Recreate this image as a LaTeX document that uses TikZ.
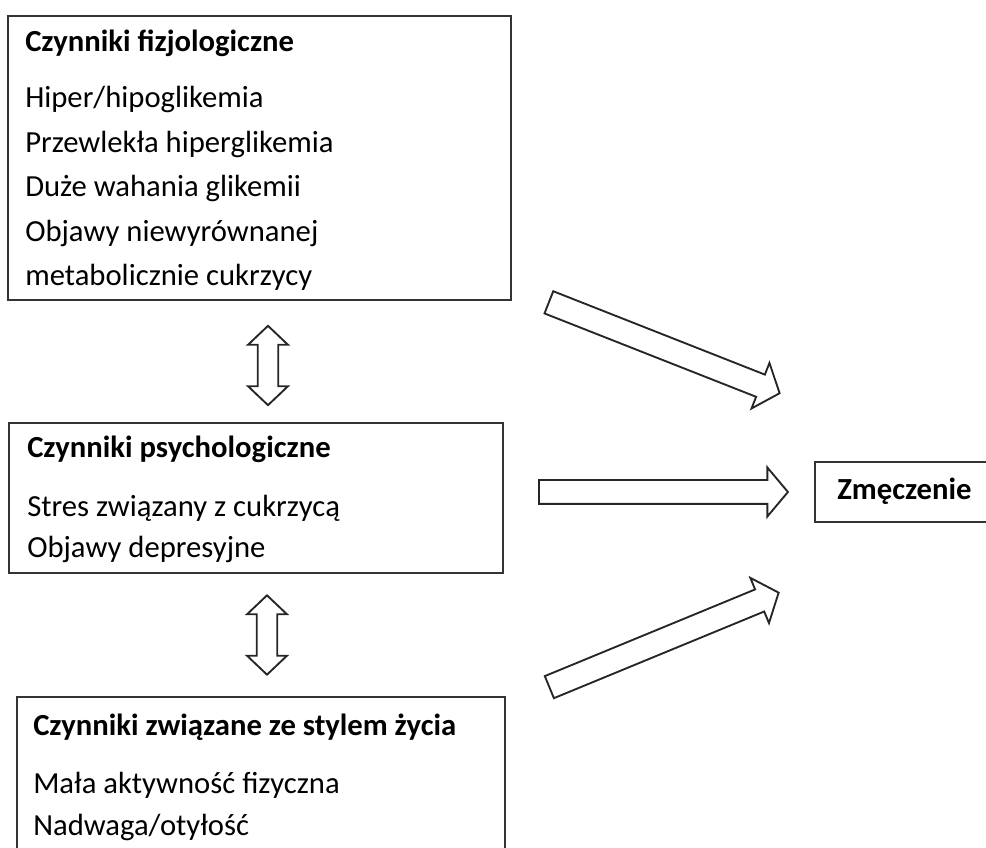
\documentclass[tikz,border=0pt]{standalone}
\usepackage{fontspec}
\setmainfont{Carlito}
\usetikzlibrary{fit, shapes.arrows}

\begin{document}
\begin{tikzpicture}[x=0.75pt, y=-0.75pt,
    box/.style={draw=black!80, line width=1.1pt, inner sep=0pt},
    txt/.style={anchor=base west, inner sep=0pt, align=left},
    fat/.style={single arrow, draw=black!85, line width=1.4pt,
        inner xsep=0pt, inner ysep=8.25pt, single arrow head extend=9.4pt,
        single arrow tip angle=100, minimum height=186pt, anchor=tail},
    twoway/.style={double arrow, draw=black!85, line width=1.4pt,
        inner xsep=0pt, inner ysep=7pt, double arrow head extend=7.25pt,
        double arrow tip angle=93, minimum height=59.5pt, rotate=90}]

    \clip[use as bounding box] (0,0) rectangle (986,848);

    % boxes
    \node[box, fit={(8,16) (511,300)}]    (fiz)  {};
    \node[box, fit={(9,423) (503,573)}]   (psy)  {};
    \node[box, fit={(17,697) (505,880)}]  (styl) {};
    \node[box, fit={(815,462) (1010,522)}] (zm)  {};

    % texts (anchored at the last line)
    \node[txt, font=\fontsize{23}{33.4}\selectfont] (fiztxt) at (25,286)
        {\textbf{Czynniki fizjologiczne}\\[8.6pt]
         Hiper/hipoglikemia\\ Przewlekła hiperglikemia\\ Duże wahania glikemii\\
         Objawy niewyrównanej\\ metabolicznie cukrzycy};
    \node[txt, font=\fontsize{23}{31}\selectfont] (psytxt) at (27,558)
        {\textbf{Czynniki psychologiczne}\\[13.2pt]
         Stres związany z cukrzycą\\ Objawy depresyjne};
    \node[txt, font=\fontsize{23}{31}\selectfont] (styltxt) at (33,835)
        {\textbf{Czynniki związane ze stylem życia}\\[12.5pt]
         Mała aktywność fizyczna\\ Nadwaga/otyłość};
    \node[txt, font=\fontsize{23}{24}\selectfont\bfseries] (zmtxt) at (837,500) {Zmęczenie};

    % arrows
    \node[fat, rotate=-21.5] (a1) at (548,302) {};
    \node[fat, minimum height=186.75pt] (a2) at (538,492) {};
    \node[fat, rotate=22.4] (a3) at (548.5,687.5) {};
    \node[twoway] (d1) at (268,365.5) {};
    \node[twoway] (d2) at (267,635) {};
\end{tikzpicture}
\end{document}
